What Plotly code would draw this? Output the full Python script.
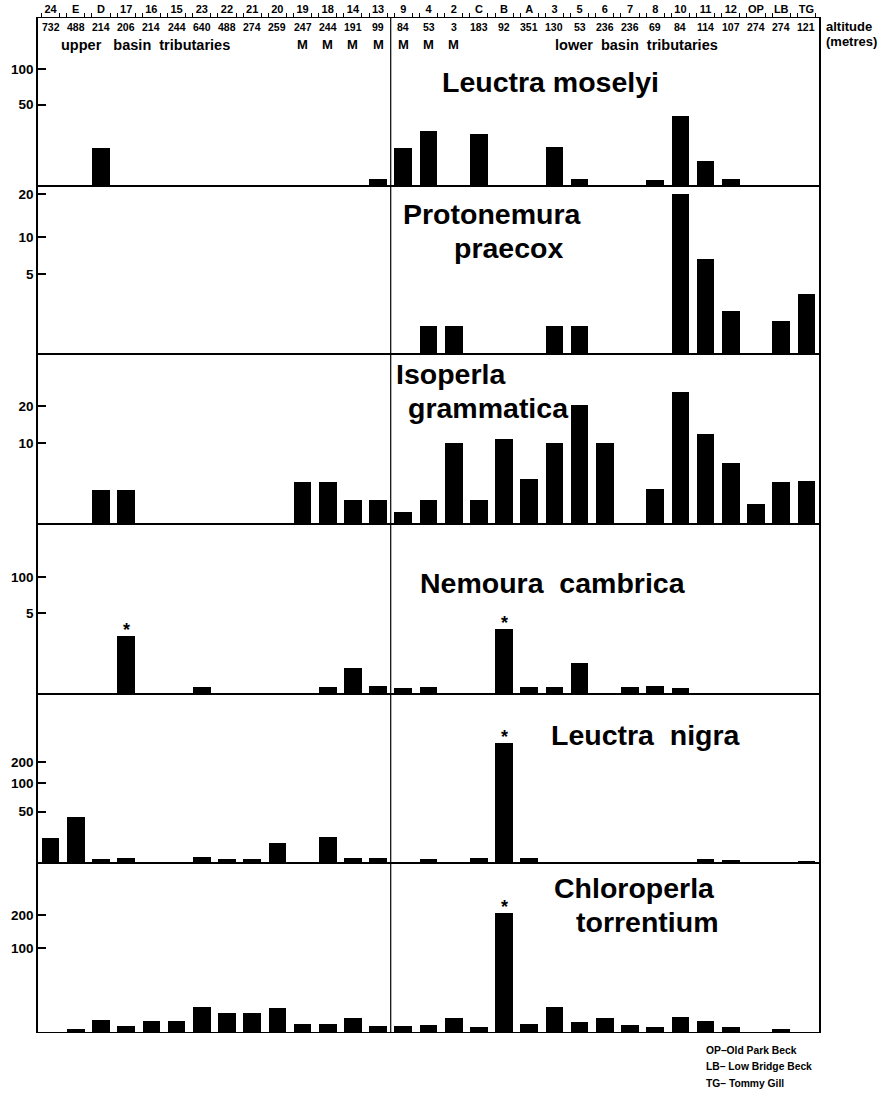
import numpy as np
import plotly.graph_objects as go

W, H = 889, 1093

# ---------------- data ----------------
sites = ["24", "E", "D", "17", "16", "15", "23", "22", "21", "20", "19", "18", "14", "13",
         "9", "4", "2", "C", "B", "A", "3", "5", "6", "7", "8", "10", "11", "12", "OP", "LB", "TG"]
altitude = [732, 488, 214, 206, 214, 244, 640, 488, 274, 259, 247, 244, 191, 99,
            84, 53, 3, 183, 92, 351, 130, 53, 236, 236, 69, 84, 114, 107, 274, 274, 121]
mainstream_sites = ["19", "18", "14", "13", "9", "4", "2"]
n_upper = 14  # first 14 sites are upper basin tributaries

species = ["Leuctra moselyi", "Protonemura praecox", "Isoperla grammatica",
           "Nemoura cambrica", "Leuctra nigra", "Chloroperla torrentium"]

leuctra_moselyi = [0, 0, 10.5, 0, 0, 0, 0, 0, 0, 0, 0, 0, 0, 0.36,
                   10.5, 22.1, 0, 19.8, 0, 0, 11.1, 0.36, 0, 0, 0.26, 35.8, 4.6, 0.36, 0, 0, 0]
protonemura_praecox = [0, 0, 0, 0, 0, 0, 0, 0, 0, 0, 0, 0, 0, 0,
                       0, 0.57, 0.57, 0, 0, 0, 0.57, 0.57, 0, 0, 0, 18.7, 6.6, 1.35, 0, 0.8, 2.63]
isoperla_grammatica = [0, 0, 1.66, 1.66, 0, 0, 0, 0, 0, 0, 2.53, 2.53, 0.83, 0.83,
                       0.21, 0.83, 9.4, 0.83, 10.4, 2.9, 9.4, 20.3, 9.4, 0, 1.76, 25.0, 11.6, 5.34, 0.57, 2.53, 2.65]
nemoura_cambrica = [0, 0, 0, 2.57, 0, 0, 0.037, 0, 0, 0, 0, 0.037, 0.52, 0.049,
                    0.027, 0.037, 0, 0, 3.22, 0.037, 0.037, 0.73, 0, 0.037, 0.049, 0.027, 0, 0, 0, 0, 0]
leuctra_nigra = [9.8, 33.1, 0.25, 0.39, 0, 0, 0.56, 0.25, 0.25, 6.25, 0, 10.6, 0.39, 0.39,
                 0, 0.3, 0, 0.39, 225, 0.39, 0, 0, 0, 0, 0, 0, 0.25, 0.14, 0, 0, 0.06]
chloroperla_torrentium = [0, 0.13, 2.04, 0.51, 1.71, 1.71, 8.86, 5.12, 5.12, 8.16, 0.91, 0.91, 2.78, 0.51,
                          0.51, 0.69, 2.78, 0.35, 200.7, 0.91, 8.86, 1.42, 2.78, 0.69, 0.35, 3.19, 1.71, 0.35, 0, 0.13, 0]
values = [leuctra_moselyi, protonemura_praecox, isoperla_grammatica,
          nemoura_cambrica, leuctra_nigra, chloroperla_torrentium]

starred = {"Nemoura cambrica": ["17", "B"], "Leuctra nigra": ["B"], "Chloroperla torrentium": ["B"]}

# y axes are square-root scaled; tick labels as printed, positions in sqrt units
tick_labels = [["100", "50"], ["20", "10", "5"], ["20", "10"], ["100", "5"],
               ["200", "100", "50"], ["200", "100"]]
tick_pos = [[10.0, 6.95], [4.32, 3.16, 2.16], [4.47, 3.07], [3.23, 2.24],
            [12.6, 10.0, 6.4], [13.93, 10.0]]
y_top = [14.36, 4.54, 6.44, 4.70, 21.1, 20.1]

legend_lines = ["OP\u2013Old Park Beck", "LB\u2013 Low Bridge Beck", "TG\u2013 Tommy Gill"]

# ---------------- layout helpers ----------------
FONT = "Liberation Sans, Arial, sans-serif"
def xp(px):
    return px / W
def yp(py):
    return 1 - py / H

panel_edges = [18, 186, 354, 524, 694, 863, 1032]
x_dom = [xp(38), xp(819)]
xidx = np.arange(len(sites))

fig = go.Figure()
layout = dict(width=W, height=H, margin=dict(l=0, r=0, t=0, b=0),
              paper_bgcolor="white", plot_bgcolor="white", showlegend=False,
              font=dict(family=FONT, color="black"), bargap=0)

for k, (sp, vals) in enumerate(zip(species, values)):
    n = k + 1
    xa = "x" if n == 1 else f"x{n}"
    ya = "y" if n == 1 else f"y{n}"
    fig.add_trace(go.Bar(x=xidx, y=np.sqrt(np.array(vals, dtype=float)), width=0.7,
                         marker=dict(color="black", line=dict(width=0)),
                         xaxis=xa, yaxis=ya, hoverinfo="skip"))
    xkey = "xaxis" if n == 1 else f"xaxis{n}"
    ykey = "yaxis" if n == 1 else f"yaxis{n}"
    xax = dict(domain=x_dom, anchor=ya, range=[-0.5, len(sites) - 0.5],
               showline=True, mirror=True, linecolor="black", linewidth=1,
               showgrid=False, zeroline=False, fixedrange=True)
    if n == 1:
        minor_vals = [i + d for i in xidx for d in (-0.36, 0.36)]
        xax.update(side="top", tickmode="array", tickvals=list(xidx), ticktext=sites,
                   ticks="outside", ticklen=0, tickwidth=1, tickcolor="black",
                   tickfont=dict(family=FONT, size=11, weight="bold"),
                   minor=dict(tickmode="array", tickvals=minor_vals, ticks="outside",
                              ticklen=4, tickwidth=1, tickcolor="black"))
    else:
        xax.update(showticklabels=False, ticks="")
    layout[xkey] = xax
    layout[ykey] = dict(domain=[yp(panel_edges[k + 1]), yp(panel_edges[k])], anchor=xa,
                        range=[0, y_top[k]], showline=True, mirror=True, linecolor="black",
                        linewidth=1.5, showgrid=False, zeroline=False, fixedrange=True,
                        tickmode="array", tickvals=tick_pos[k], ticktext=tick_labels[k],
                        ticks="inside", ticklen=8, tickwidth=1.5, tickcolor="black",
                        tickfont=dict(family=FONT, size=13.5, weight="bold"))

annotations = []
# altitudes
for i, alt in enumerate(altitude):
    annotations.append(dict(x=i, y=yp(27), xref="x", yref="paper", text=f"<b>{alt}</b>",
                            showarrow=False, font=dict(size=10.5, family=FONT),
                            xanchor="center", yanchor="middle"))
# mainstream markers
for s in mainstream_sites:
    annotations.append(dict(x=sites.index(s), y=yp(45), xref="x", yref="paper", text="<b>M</b>",
                            showarrow=False, font=dict(size=13, family=FONT),
                            xanchor="center", yanchor="middle"))
annotations.append(dict(x=xp(59), y=yp(45), xref="paper", yref="paper",
                        text="<b>upper   basin  tributaries</b>", showarrow=False,
                        font=dict(size=14.5, family=FONT), xanchor="left", yanchor="middle"))
annotations.append(dict(x=xp(636), y=yp(45), xref="paper", yref="paper",
                        text="<b>lower  basin  tributaries</b>", showarrow=False,
                        font=dict(size=14.5, family=FONT), xanchor="center", yanchor="middle"))
annotations.append(dict(x=xp(824), y=yp(27), xref="paper", yref="paper", text="<b>altitude</b>",
                        showarrow=False, font=dict(size=13, family=FONT), xanchor="left", yanchor="middle"))
annotations.append(dict(x=xp(824), y=yp(42), xref="paper", yref="paper", text="<b>(metres)</b>",
                        showarrow=False, font=dict(size=13, family=FONT), xanchor="left", yanchor="middle"))

# species titles (line text, left px, centre px)
title_lines = [
    [("Leuctra moselyi", 441, 82)],
    [("Protonemura", 402, 214), ("praecox", 453, 248)],
    [("Isoperla", 395, 374), ("grammatica", 407, 408)],
    [("Nemoura  cambrica", 419, 583)],
    [("Leuctra  nigra", 550, 735)],
    [("Chloroperla", 553, 888), ("torrentium", 575, 922)],
]
for lines in title_lines:
    for txt, lx, cy in lines:
        annotations.append(dict(x=xp(lx), y=yp(cy), xref="paper", yref="paper", text=f"<b>{txt}</b>",
                                showarrow=False, font=dict(size=28.5, family=FONT), borderpad=0,
                                xanchor="left", yanchor="middle"))

# stars above bars
for k, sp in enumerate(species):
    for s in starred.get(sp, []):
        i = sites.index(s)
        n = k + 1
        annotations.append(dict(x=i, y=float(np.sqrt(values[k][i])),
                                xref="x" if n == 1 else f"x{n}", yref="y" if n == 1 else f"y{n}",
                                text="<b>*</b>", showarrow=False, font=dict(size=18, family=FONT),
                                xanchor="center", yanchor="bottom", yshift=-6))

# key to abbreviations
for j, line in enumerate(legend_lines):
    annotations.append(dict(x=xp(704), y=yp(1050 + 16.5 * j), xref="paper", yref="paper",
                            text=f"<b>{line}</b>", showarrow=False, font=dict(size=10.3, family=FONT),
                            xanchor="left", yanchor="middle"))

layout["annotations"] = annotations
layout["shapes"] = [dict(type="line", xref="x", yref="paper", x0=n_upper - 0.5, x1=n_upper - 0.5,
                         y0=yp(panel_edges[-1]), y1=yp(panel_edges[0]),
                         line=dict(color="black", width=1.2))]
fig.update_layout(**layout)
fig.write_html("out.html")
